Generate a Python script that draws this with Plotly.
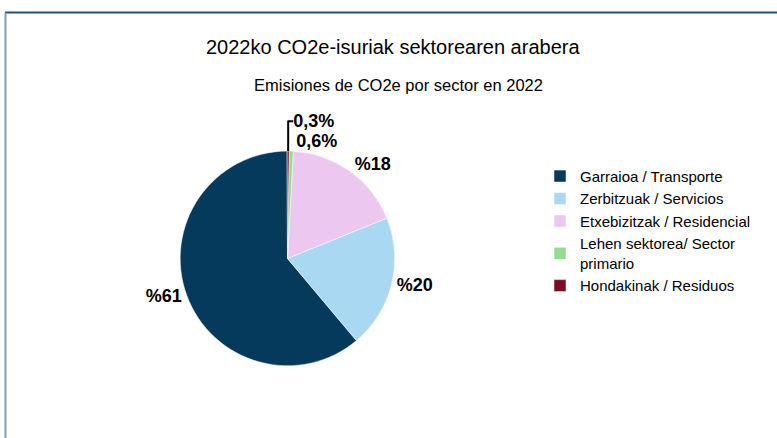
import plotly.graph_objects as go

categories = [
    "Garraioa / Transporte",
    "Zerbitzuak / Servicios",
    "Etxebizitzak / Residencial",
    "Lehen sektorea/ Sector<br>primario",
    "Hondakinak / Residuos",
]
values = [61, 20, 18, 0.6, 0.3]
value_labels = ["%61", "%20", "%18", "0,6%", "0,3%"]
colors = ["#053a5c", "#a9d9f2", "#ecc8f0", "#92de8c", "#7a0a26"]

title_text = "2022ko CO2e-isuriak sektorearen arabera"
subtitle_text = "Emisiones de CO2e por sector en 2022"

FONT = "Liberation Sans, Arial, sans-serif"
W, H = 777, 438

fig = go.Figure(
    go.Pie(
        labels=categories,
        values=values,
        text=value_labels,
        texttemplate="<b>%{text}</b>",
        textposition="outside",
        textfont=dict(family=FONT, size=18, color="#000000"),
        marker=dict(colors=colors, line=dict(color="#ffffff", width=0.5)),
        sort=False,
        direction="counterclockwise",
        rotation=140,
        hole=0,
        automargin=False,
        domain=dict(x=[0.13, 0.61], y=[0.165, 0.655]),
        showlegend=True,
    )
)

fig.update_layout(
    width=W,
    height=H,
    margin=dict(l=0, r=0, t=0, b=0, pad=0, autoexpand=False),
    paper_bgcolor="#ffffff",
    plot_bgcolor="#ffffff",
    font=dict(family=FONT, color="#000000"),
    legend=dict(
        x=540 / W,
        y=0.635,
        xanchor="left",
        yanchor="top",
        font=dict(family=FONT, size=15, color="#000000"),
        itemwidth=30,
        bgcolor="rgba(0,0,0,0)",
    ),
    annotations=[
        dict(text=title_text, x=393 / W, y=1 - 47 / H, xref="paper", yref="paper",
             showarrow=False, font=dict(family=FONT, size=20, color="#000000"),
             xanchor="center", yanchor="middle"),
        dict(text=subtitle_text, x=398 / W, y=1 - 85 / H, xref="paper", yref="paper",
             showarrow=False, font=dict(family=FONT, size=16.5, color="#000000"),
             xanchor="center", yanchor="middle"),
    ],
    shapes=[
        dict(type="line", xref="paper", yref="paper", x0=5 / W, x1=1.0,
             y0=1 - 12.5 / H, y1=1 - 12.5 / H, line=dict(color="#1f4e79", width=2)),
        dict(type="line", xref="paper", yref="paper", x0=5.5 / W, x1=5.5 / W,
             y0=0, y1=1 - 12.5 / H, line=dict(color="#7f9db6", width=2)),
    ],
)

fig.write_html(
    "out.html",
    config={"displayModeBar": False},
    post_script=(
        "document.documentElement.style.margin='0';"
        "document.body.style.margin='0';"
        "document.body.style.padding='0';"
        "document.body.style.overflow='hidden';"
    ),
)
